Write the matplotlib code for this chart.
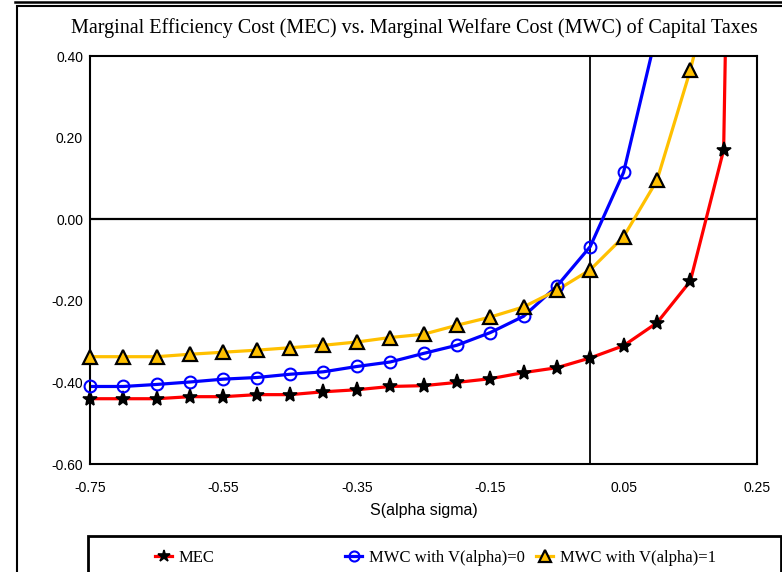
#!/usr/bin/env python3
"""MEC vs MWC of capital taxes"""

import numpy as np
import matplotlib
matplotlib.use("Agg")
import matplotlib.pyplot as plt
from matplotlib.patches import Rectangle
from matplotlib.lines import Line2D

# S(alpha sigma) grid, last points lie above the plotted range
s_alpha = [-0.75, -0.70, -0.65, -0.60, -0.55, -0.50, -0.45, -0.40, -0.35, -0.30, -0.25,
           -0.20, -0.15, -0.10, -0.05, 0.00, 0.05, 0.10, 0.15, 0.20, 0.25]

mec = [-0.440, -0.440, -0.440, -0.435, -0.435, -0.430, -0.430, -0.423, -0.418, -0.410, -0.408,
       -0.400, -0.391, -0.376, -0.364, -0.340, -0.310, -0.254, -0.152, 0.170, 4.9]
mwc_v0 = [-0.410, -0.410, -0.405, -0.399, -0.392, -0.388, -0.380, -0.374, -0.361, -0.350, -0.329,
          -0.309, -0.278, -0.238, -0.164, -0.067, 0.115, 0.46, np.nan, np.nan, np.nan]
mwc_v1 = [-0.337, -0.337, -0.337, -0.331, -0.326, -0.321, -0.315, -0.309, -0.301, -0.290, -0.282,
          -0.260, -0.240, -0.215, -0.174, -0.124, -0.043, 0.095, 0.365, 0.70, np.nan]

series_labels = ["MEC", "MWC with V(alpha)=0", "MWC with V(alpha)=1"]

W, H = 782, 572
fig = plt.figure(figsize=(W / 100, H / 100), dpi=100)
ax = fig.add_axes([90 / W, 1 - 464 / H, (757 - 90) / W, (464 - 56) / H])

serif = "Liberation Serif"
sans = "Liberation Sans"
ymin, ymax = -0.60, 0.40

ax.axhline(0, color="black", lw=1.6, zorder=1)
ax.axvline(0, color="black", lw=1.3, zorder=1)

styles = [
    dict(color="#ff0000", marker="*", ms=11, mfc="black", mec="black", mew=1.2),
    dict(color="#0000ff", marker="o", ms=8.5, mfc="none", mec="#0000ff", mew=1.5),
    dict(color="#ffc000", marker="^", ms=9.5, mfc="#ffc000", mec="black", mew=1.6),
]
handles = []
for ys, st in zip([mec, mwc_v0, mwc_v1], styles):
    ys = np.array(ys, dtype=float)
    ax.plot(s_alpha, ys, color=st["color"], lw=2.3, zorder=2)
    # markers only for points inside the plotted range, not clipped by the frame
    shown = np.ma.masked_outside(ys, ymin - 1e-9, ymax + 1e-9)
    ax.plot(s_alpha, shown, ls="none", clip_on=False, zorder=3,
            **{k: v for k, v in st.items() if k != "color"})
    handles.append(Line2D([], [], lw=2.3, **st))

ax.set_xlim(-0.75, 0.25)
ax.set_ylim(ymin, ymax)
ax.set_xticks(np.arange(-0.75, 0.26, 0.20))
ax.set_yticks(np.arange(-0.60, 0.41, 0.20))
ax.xaxis.set_major_formatter(matplotlib.ticker.FormatStrFormatter("%.2f"))
ax.yaxis.set_major_formatter(matplotlib.ticker.FormatStrFormatter("%.2f"))
ax.tick_params(length=0, labelsize=10)
ax.tick_params(axis="x", pad=12)
ax.tick_params(axis="y", pad=5)
for lab in ax.get_xticklabels() + ax.get_yticklabels():
    lab.set_fontfamily(sans)
for sp in ax.spines.values():
    sp.set_linewidth(1.5)
    sp.set_zorder(2.5)

ax.set_xlabel("S(alpha sigma)", fontsize=11.5, family=sans, labelpad=6)

fig.text(414 / W, 1 - 33 / H, "Marginal Efficiency Cost (MEC) vs. Marginal Welfare Cost (MWC) of Capital Taxes",
         ha="center", va="baseline", fontsize=14.5, family=serif)

# outer chart frame
fig.add_artist(Rectangle((17 / W, -0.1), 1.2, 1 - 6 / H + 0.1, transform=fig.transFigure,
                         fill=False, lw=1.5, ec="black"))
fig.add_artist(Line2D([15 / W, 1], [1 - 2 / H, 1 - 2 / H], transform=fig.transFigure,
                      color="black", lw=1.8))

# legend box and entries
fig.add_artist(Rectangle((88 / W, -0.1), (781 - 88) / W, 1 - 536 / H + 0.1,
                         transform=fig.transFigure, fill=False, lw=2, ec="black"))
for handle, label, x0 in zip(handles, series_labels, [147, 337, 528]):
    fig.legend([handle], [label], loc="center left", bbox_to_anchor=(x0 / W, 1 - 558 / H),
               frameon=False, borderpad=0, handlelength=1.0, handletextpad=0.4,
               numpoints=1, prop={"family": serif, "size": 12}, markerscale=0.85)

fig.savefig("out.png", dpi=100)
